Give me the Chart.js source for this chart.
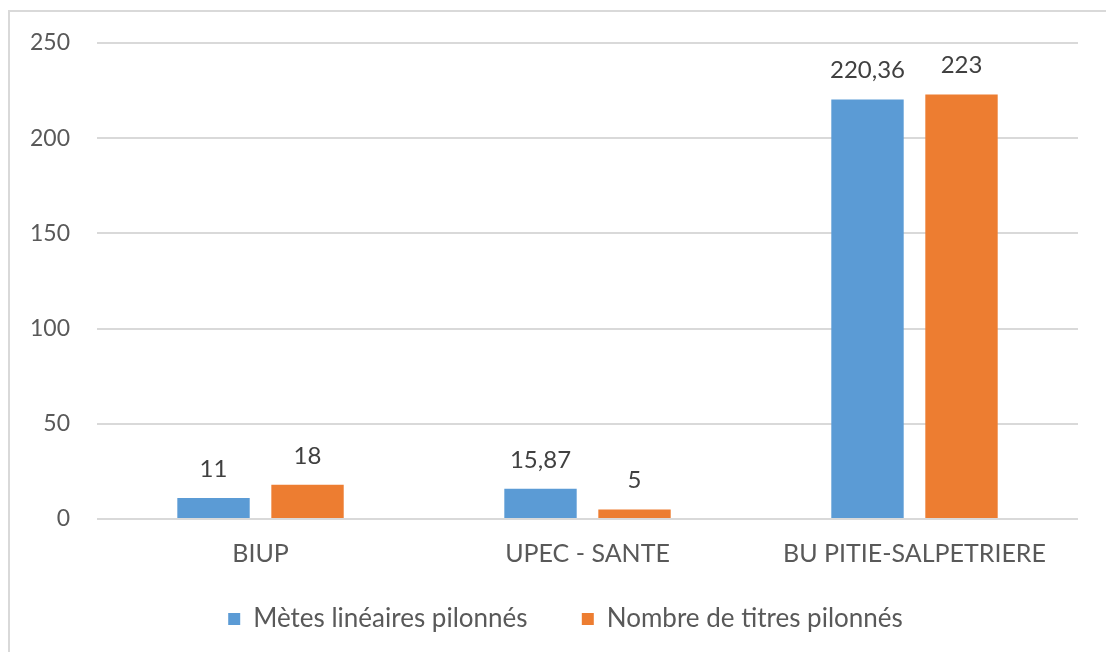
<!DOCTYPE html>
<html>
<head>
<meta charset="utf-8">
<script src="https://cdn.jsdelivr.net/npm/chart.js@4"></script>
<style>
  html, body { margin: 0; padding: 0; background: #fff; }
  #wrap { width: 1106px; height: 652px; position: relative; }
</style>
</head>
<body>
<div id="wrap"><canvas id="barChart" width="1106" height="652"></canvas></div>
<script>
// data
const categories = ['BIUP', 'UPEC - SANTE', 'BU PITIE-SALPETRIERE'];
const metresLineaires = [11, 15.87, 220.36];
const nombreTitres = [18, 5, 223];
const yTicks = [0, 50, 100, 150, 200, 250];

const textColor = '#595959';
const fontFamily = 'Lato, "Open Sans", sans-serif';

// frame around the chart (only left & top edges show in the picture)
const framePlugin = {
  id: 'frame',
  beforeDraw(chart) {
    const ctx = chart.ctx;
    ctx.save();
    ctx.strokeStyle = '#d9d9d9';
    ctx.lineWidth = 2;
    ctx.beginPath();
    ctx.moveTo(9, 660);
    ctx.lineTo(9, 11);
    ctx.lineTo(1110, 11);
    ctx.stroke();
    ctx.restore();
  },
  afterLayout(chart) {
    // nudge legend a bit right like the original
    chart.legend.left += 25;
    chart.legend.right += 25;
  }
};

// value labels above each bar, french decimal comma
const valueLabels = {
  id: 'valueLabels',
  afterDatasetsDraw(chart) {
    const ctx = chart.ctx;
    ctx.save();
    ctx.font = '24px ' + fontFamily;
    ctx.fillStyle = '#404040';
    ctx.textAlign = 'center';
    ctx.textBaseline = 'alphabetic';
    chart.data.datasets.forEach((ds, i) => {
      chart.getDatasetMeta(i).data.forEach((bar, j) => {
        const txt = String(ds.data[j]).replace('.', ',');
        ctx.fillText(txt, bar.x, bar.y - 21);
      });
    });
    ctx.restore();
  }
};

new Chart(document.getElementById('barChart'), {
  type: 'bar',
  data: {
    labels: categories,
    datasets: [
      {
        label: 'Mètes linéaires pilonnés',
        data: metresLineaires,
        backgroundColor: '#5b9bd5'
      },
      {
        label: 'Nombre de titres pilonnés',
        data: nombreTitres,
        backgroundColor: '#ed7d31'
      }
    ]
  },
  options: {
    responsive: false,
    animation: false,
    layout: { padding: { left: 3, right: 28, top: 43, bottom: 10 } },
    datasets: {
      bar: { categoryPercentage: 0.575, barPercentage: 0.77 }
    },
    scales: {
      x: {
        grid: { display: false },
        border: { display: false },
        ticks: { color: textColor, font: { family: fontFamily, size: 25 }, padding: 12 },
        afterFit(axis) { axis.height = 66; }
      },
      y: {
        min: 0,
        max: 250,
        afterBuildTicks(axis) { axis.ticks = yTicks.map(v => ({ value: v })); },
        grid: { color: '#d9d9d9', lineWidth: 2, drawTicks: false },
        border: { display: false },
        ticks: { color: textColor, font: { family: fontFamily, size: 23 }, padding: 27 }
      }
    },
    plugins: {
      legend: {
        position: 'bottom',
        labels: {
          color: textColor,
          font: { family: fontFamily, size: 26, lineHeight: 1.15 },
          boxWidth: 12,
          boxHeight: 12,
          padding: 21,
          generateLabels(chart) {
            const items = Chart.defaults.plugins.legend.labels.generateLabels(chart);
            // wider gap between the two entries
            items[0].text += '     ';
            return items;
          }
        }
      },
      tooltip: { enabled: false }
    }
  },
  plugins: [framePlugin, valueLabels]
});
</script>
</body>
</html>
